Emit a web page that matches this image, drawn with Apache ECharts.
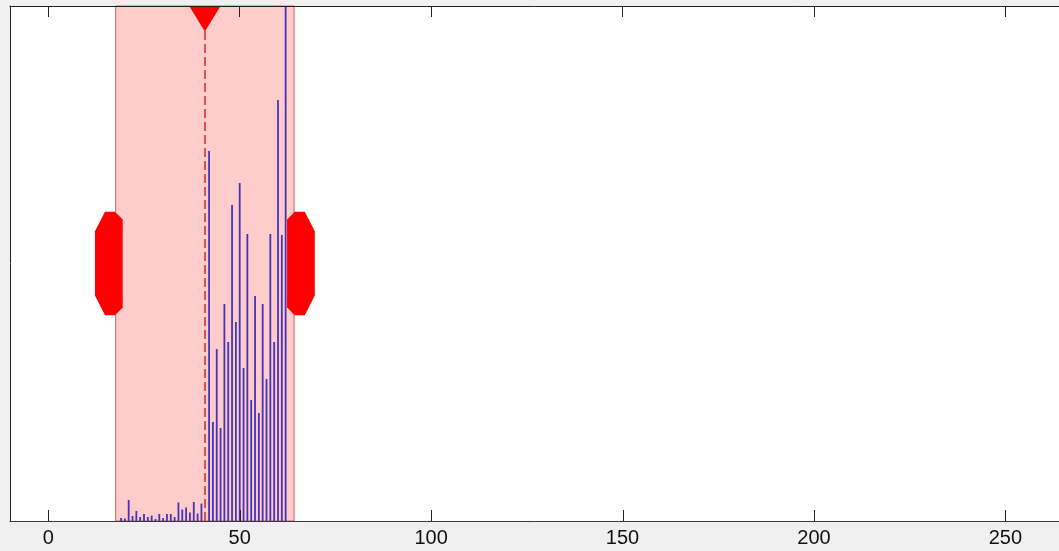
<!DOCTYPE html>
<html>
<head>
<meta charset="utf-8">
<script src="https://cdn.jsdelivr.net/npm/echarts@6/dist/echarts.min.js"></script>
<style>
  html, body { margin: 0; padding: 0; background: #f0f0f0; }
  #chart { width: 1059px; height: 551px; }
</style>
</head>
<body>
<div id="chart"></div>
<script>
// Intensity histogram with the display window (low / high limits and its centre)
const binValues = [19, 20, 21, 22, 23, 24, 25, 26, 27, 28, 29, 30, 31, 32, 33, 34, 35, 36, 37, 38, 39, 40,
  41, 42, 43, 44, 45, 46, 47, 48, 49, 50, 51, 52, 53, 54, 55, 56, 57, 58, 59, 60, 61, 62];
const binCounts = [30, 25, 210, 50, 100, 40, 70, 40, 55, 20, 70, 30, 70, 70, 40, 185, 115, 135, 85, 190, 75, 175,
  0, 3700, 990, 1720, 930, 2170, 1790, 3160, 1990, 3380, 1530, 2870, 1210, 2250, 1080, 2170, 1420, 2870, 1790, 4210, 2860, 6000];
const xTicks = [0, 50, 100, 150, 200, 250];
const xRange = [-10, 264];
const countMax = 5150;
const windowLimits = [17.6, 64.2];
const windowCenter = (windowLimits[0] + windowLimits[1]) / 2;

const histData = binValues.map((v, i) => [v, binCounts[i]]);

const chart = echarts.init(document.getElementById('chart'), null, { renderer: 'canvas' });

// Handle outline (pixel offsets from the window edge; +x points away from the window)
const handleShape = [[-7, -44], [0.7, -51.7], [10.7, -51.7], [20.7, -32.3], [20.7, 32], [10.7, 51.7], [0.7, 51.7], [-7, 44]];

const option = {
  backgroundColor: '#f0f0f0',
  animation: false,
  grid: {
    left: 10, right: 0, top: 6, bottom: 30,
    show: true, backgroundColor: '#ffffff', borderWidth: 0
  },
  xAxis: [
    {
      type: 'value', position: 'bottom', min: xRange[0], max: xRange[1], z: 10,
      splitLine: { show: false },
      axisLine: { show: true, onZero: false, lineStyle: { color: '#3a3a3a', width: 1 } },
      axisTick: { show: false },
      axisLabel: { show: true, customValues: xTicks, margin: 7, color: '#111',
        fontFamily: 'Liberation Sans, Arial, sans-serif', fontSize: 20 }
    },
    {
      type: 'value', position: 'top', min: xRange[0], max: xRange[1], z: 10,
      splitLine: { show: false },
      axisLine: { show: true, onZero: false, lineStyle: { color: '#222', width: 1 } },
      axisTick: { show: true, inside: true, length: 11, customValues: xTicks, lineStyle: { color: '#222' } },
      axisLabel: { show: false }
    }
  ],
  yAxis: {
    type: 'value', min: 0, max: countMax, z: 10, position: 'left',
    splitLine: { show: false },
    axisLine: { show: true, onZero: false, lineStyle: { color: '#222', width: 1 } },
    axisTick: { show: false },
    axisLabel: { show: false }
  },
  series: [
    {
      // display window band and its centre line
      type: 'line', data: [], z: 1, silent: true,
      markArea: {
        silent: true,
        itemStyle: { color: '#ffcccc', borderColor: '#c86060', borderWidth: 1 },
        data: [[{ xAxis: windowLimits[0] }, { xAxis: windowLimits[1] }]]
      },
      markLine: {
        silent: true, symbol: 'none', label: { show: false },
        lineStyle: { color: '#d42828', width: 1.5, type: [9, 4] },
        data: [{ xAxis: windowCenter }]
      }
    },
    {
      type: 'bar', data: histData, barWidth: 1.8, clip: true, z: 3,
      itemStyle: { color: '#4434b8' }
    },
    {
      // window limit handles
      type: 'custom', z: 5, silent: true,
      data: [[windowLimits[0], -1], [windowLimits[1], 1]],
      renderItem: function (params, api) {
        const px = api.coord([api.value(0), 0])[0];
        const dir = api.value(1);
        const cs = params.coordSys;
        const cy = cs.y + cs.height / 2;
        return {
          type: 'polygon',
          shape: { points: handleShape.map(p => [px + dir * p[0], cy + p[1]]) },
          style: { fill: '#ff0000', stroke: null }
        };
      }
    },
    {
      // window centre marker
      type: 'custom', z: 5, silent: true,
      data: [[windowCenter]],
      renderItem: function (params, api) {
        const px = api.coord([api.value(0), 0])[0];
        const top = params.coordSys.y;
        return {
          type: 'polygon',
          shape: { points: [[px - 15.7, top], [px + 15.7, top], [px, top + 25.5]] },
          style: { fill: '#ff0000', stroke: null }
        };
      }
    }
  ]
};

chart.setOption(option);

// inward tick marks along the bottom axis, placed through the x scale
const baseY = chart.convertToPixel({ yAxisIndex: 0 }, 0);
chart.setOption({
  graphic: xTicks.map(t => {
    const px = Math.round(chart.convertToPixel({ xAxisIndex: 0 }, t)) + 0.5;
    return {
      type: 'line', z: 100, silent: true,
      shape: { x1: px, y1: baseY, x2: px, y2: baseY - 11 },
      style: { stroke: '#222', lineWidth: 1 }
    };
  })
});
</script>
</body>
</html>
